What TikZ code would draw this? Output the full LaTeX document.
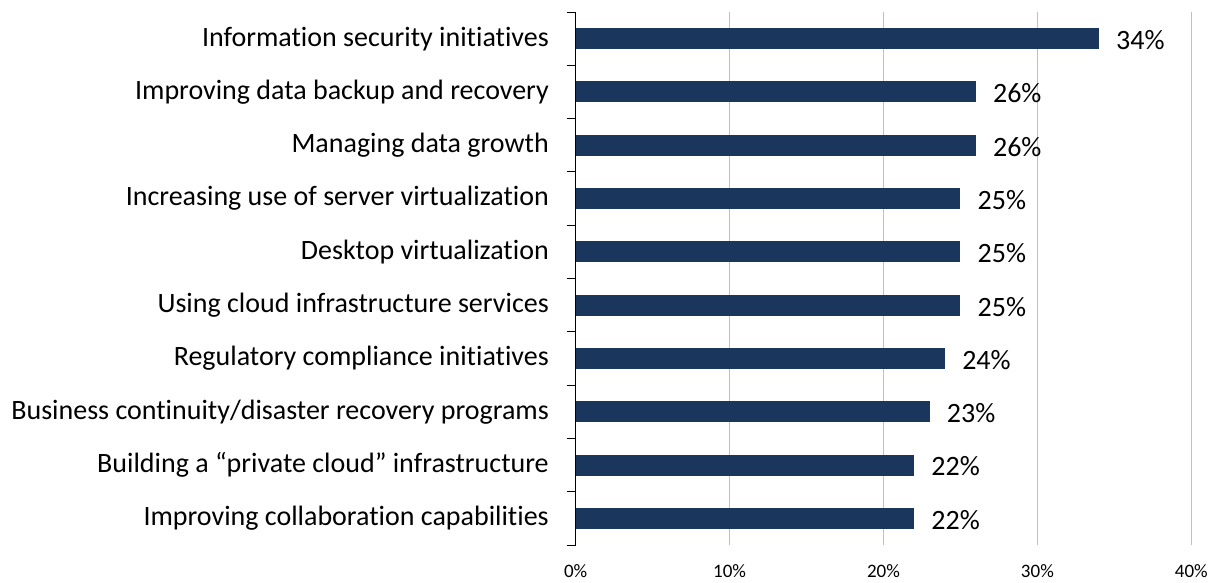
\documentclass[tikz,border=0pt]{standalone}
\usepackage{fontspec}
\setmainfont[RawFeature={-liga}]{Carlito}
\definecolor{barblue}{HTML}{1B365D}
\definecolor{gridgray}{HTML}{BFBFBF}
\begin{document}
\begin{tikzpicture}[x=1pt,y=-1pt,
  gridline/.style={draw=gridgray,line width=1.2pt},
  axisline/.style={draw=black,line width=1pt},
  barbox/.style={fill=barblue},
  catlab/.style={anchor=east,inner sep=0pt,font=\fontsize{28}{33}\selectfont},
  vallab/.style={anchor=west,inner sep=0pt,font=\fontsize{28}{33}\selectfont},
  axlab/.style={anchor=center,inner sep=0pt,font=\fontsize{19}{22}\selectfont}]
\useasboundingbox (0,0) rectangle (1222,582);
\foreach \k in {1,...,4}{
  \draw[gridline] (575.7+153.9*\k,12) -- (575.7+153.9*\k,545);
}
\foreach \k/\t in {0/0,1/10,2/20,3/30,4/40}{
  \node[axlab] (ax\k) at (575.7+153.9*\k,571) {\t\%};
}
\foreach \i/\v/\t in {
  1/34/{Information security initiatives},
  2/26/{Improving data backup and recovery},
  3/26/{Managing data growth},
  4/25/{Increasing use of server virtualization},
  5/25/{Desktop virtualization},
  6/25/{Using cloud infrastructure services},
  7/24/{Regulatory compliance initiatives},
  8/23/{Business continuity/disaster recovery programs},
  9/22/{Building a “private cloud” infrastructure},
  10/22/{Improving collaboration capabilities}}{
  \pgfmathsetmacro{\yc}{12+53.3*(\i-0.5)}
  \pgfmathsetmacro{\xe}{575.7+15.39*\v}
  \fill[barbox] (575.7,\yc-10.5) rectangle (\xe,\yc+10.5);
  \node[catlab] (c\i) at (549,\yc) {\t};
  \node[vallab] (v\i) at (\xe+17,\yc+1.5) {\v\%};
}
\draw[axisline] (575.7,12) -- (575.7,545);
\foreach \i in {0,...,10}{
  \draw[axisline] (566.7,12+53.3*\i) -- (575.7,12+53.3*\i);
}
\end{tikzpicture}
\end{document}
